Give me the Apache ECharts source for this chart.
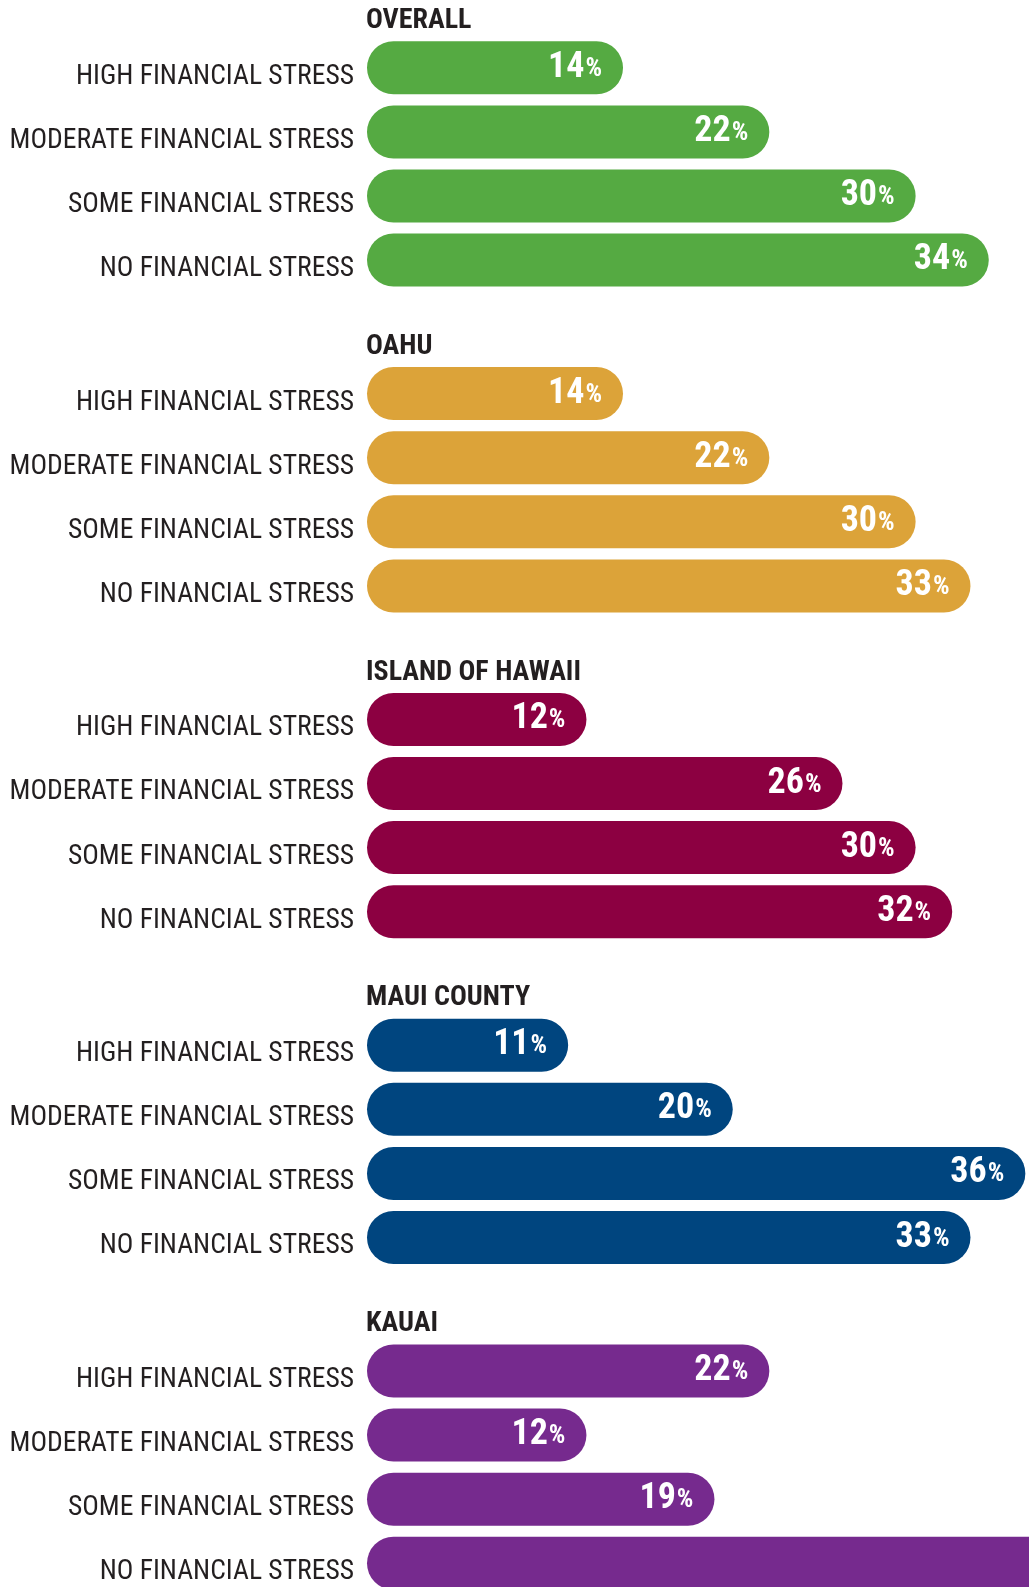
<!DOCTYPE html>
<html>
<head>
<meta charset="utf-8">
<script src="https://cdn.jsdelivr.net/npm/echarts@6/dist/echarts.min.js"></script>
<style>
html,body{margin:0;padding:0;background:#fff;}
#chart{width:1029px;height:1587px;}
</style>
</head>
<body>
<div id="chart"></div>
<script>
// ---- data ----
const categories = ['HIGH FINANCIAL STRESS', 'MODERATE FINANCIAL STRESS', 'SOME FINANCIAL STRESS', 'NO FINANCIAL STRESS'];
const regions = ['OVERALL', 'OAHU', 'ISLAND OF HAWAII', 'MAUI COUNTY', 'KAUAI'];
const overall = [14, 22, 30, 34];
const oahu = [14, 22, 30, 33];
const hawaii = [12, 26, 30, 32];
const maui = [11, 20, 36, 33];
const kauai = [22, 12, 19, 47];
const regionValues = [overall, oahu, hawaii, maui, kauai];
const regionColors = ['#55aa42', '#dca339', '#8c0041', '#00457f', '#762a8e'];

// ---- layout ----
const FONT = '"Roboto Condensed", "Open Sans Condensed", sans-serif';
const LEFT = 367;
const PANEL = 325.8;
const FIRST_BAR = 67.8;
const BAND = 64.1;
const TITLE_Y = 21;
const XMAX = 36.2;

const chart = echarts.init(document.getElementById('chart'), null, {renderer: 'canvas'});

const grids = [], xAxes = [], yAxes = [], series = [], graphics = [];
regions.forEach((name, i) => {
  const top = FIRST_BAR + PANEL * i - BAND / 2;
  grids.push({left: LEFT, right: 0, top: top, height: BAND * 4, containLabel: false, outerBoundsMode: 'none'});
  xAxes.push({type: 'value', gridIndex: i, min: 0, max: XMAX, show: false});
  yAxes.push({
    type: 'category', gridIndex: i, data: categories, inverse: true,
    axisLine: {show: false}, axisTick: {show: false}, splitLine: {show: false},
    axisLabel: {
      margin: 13,
      formatter: v => '{a|' + v + '}',
      rich: {a: {color: '#231f20', fontFamily: FONT, fontSize: 27.6, padding: [18, 0, 0, 0]}}
    }
  });
  series.push({
    type: 'bar', xAxisIndex: i, yAxisIndex: i, data: regionValues[i],
    barWidth: 53, clip: false,
    itemStyle: {color: regionColors[i], borderRadius: 26.5},
    label: {
      show: true, position: 'insideRight', distance: 21,
      formatter: p => '{n|' + p.value + '}{p|%}',
      rich: {
        n: {color: '#fff', fontFamily: FONT, fontWeight: 'bold', fontSize: 36, verticalAlign: 'middle'},
        p: {color: '#fff', fontFamily: FONT, fontWeight: 'bold', fontSize: 26, verticalAlign: 'middle', padding: [3, 0, 0, 1]}
      }
    },
    animation: false
  });
  graphics.push({
    type: 'text', x: LEFT - 1, y: TITLE_Y + PANEL * i,
    style: {text: name, fill: '#231f20', font: 'bold 28px ' + FONT, textAlign: 'left', textVerticalAlign: 'middle'}
  });
});

chart.setOption({
  backgroundColor: '#ffffff',
  animation: false,
  grid: grids,
  xAxis: xAxes,
  yAxis: yAxes,
  series: series,
  graphic: graphics
});
</script>
</body>
</html>
